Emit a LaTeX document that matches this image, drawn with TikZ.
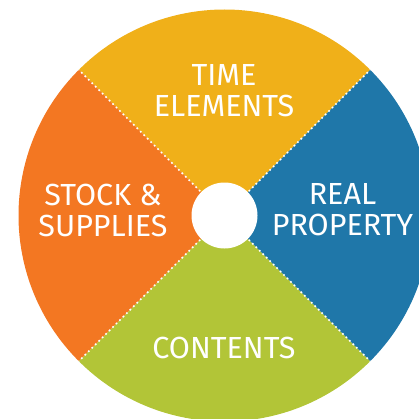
\documentclass[tikz,border=0pt]{standalone}
\usepackage{fontspec}
\setmainfont{Fira Sans}
\definecolor{wheelyellow}{HTML}{F0B019}
\definecolor{wheelorange}{HTML}{F37722}
\definecolor{wheelblue}{HTML}{1F77A9}
\definecolor{wheelgreen}{HTML}{B2C537}
\begin{document}
\begin{tikzpicture}[x=1pt,y=1pt,
  wedge/.style={draw=none},
  divider/.style={white, line width=1.7pt, dash pattern=on 1.7pt off 3.2pt},
  label/.style={text=white, inner sep=0pt, align=center,
    font=\fontsize{30.5}{31}\selectfont}]
  \useasboundingbox (0,0) rectangle (419,418);
  \clip (0,0) rectangle (419,418);
  \coordinate (c) at (224.5,202.5);
  \def\R{206}
  % four quarter wedges
  \fill[wedge, wheelyellow] (c) -- ++(45:\R) arc (45:135:\R) -- cycle;
  \fill[wedge, wheelorange] (c) -- ++(135:\R) arc (135:225:\R) -- cycle;
  \fill[wedge, wheelgreen] (c) -- ++(225:\R) arc (225:315:\R) -- cycle;
  \fill[wedge, wheelblue] (c) -- ++(315:\R) arc (315:405:\R) -- cycle;
  % dotted dividers
  \foreach \a in {45,135,225,315}
    \draw[divider] (c) -- ++(\a:\R);
  % hub
  \node[circle, fill=white, minimum size=66pt, inner sep=0pt] (hub) at (c) {};
  % labels
  \node[label] (time) at (224,327) {TIME\\ELEMENTS};
  \node[label] (stock) at (103,208) {STOCK \&\\SUPPLIES};
  \node[label] (real) at (342.5,208) {REAL\\PROPERTY};
  \node[label] (contents) at (224,70.5) {CONTENTS};
\end{tikzpicture}
\end{document}
